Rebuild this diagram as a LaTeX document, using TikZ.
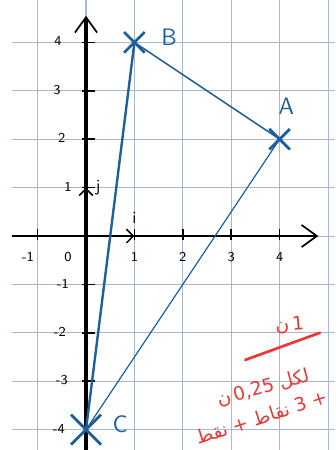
\documentclass[tikz,border=0pt]{standalone}
\usepackage{fontspec}
\newfontfamily\arabicfont[Script=Arabic]{DejaVu Sans}
\TeXXeTstate=1
\usetikzlibrary{shapes.misc, arrows.meta, positioning}
\definecolor{ptblue}{RGB}{30,95,155}
\definecolor{notered}{RGB}{235,55,55}
\definecolor{gridblue}{RGB}{165,185,210}

\begin{document}
\begin{tikzpicture}[
		% Estilos de la cuadricula, ejes y puntos
		grid_line/.style = {draw=gridblue, line width=0.6pt},
		axis/.style = {draw=black, -{Straight Barb[length=9pt, width=13pt, line width=1pt]}},
		tick/.style = {draw=black, line width=1pt},
		vec/.style = {draw=black, line width=1pt, -{Straight Barb[length=4pt, width=8pt, line width=0.9pt]}},
		num/.style = {font=\sffamily\fontsize{8}{9}\selectfont, inner sep=1pt},
		vec_lbl/.style = {font=\sffamily\fontsize{10}{11}\selectfont, inner sep=1pt},
		pt_mark/.style = {draw=ptblue, cross out, minimum size=10.5pt, inner sep=0pt, line width=1.6pt},
		pt_lbl/.style = {text=ptblue, font=\sffamily\fontsize{14}{15}\selectfont, inner sep=1pt},
		side/.style = {draw=ptblue, line width=0.9pt},
		note/.style = {text=notered, font=\arabicfont\fontsize{11}{12}\selectfont, inner sep=1pt},
		note_line/.style = {draw=notered, line width=1.6pt, line cap=round}
		]
		
		\useasboundingbox (-1.777,-4.421) rectangle (5.145,4.876);
		
		% --- CUADRICULA ---
		\foreach \gx in {-1,...,5}
			\draw[grid_line] (\gx,-4.421) -- (\gx,4.876);
		\foreach \gy in {-4,...,4}
			\draw[grid_line] (-1.53,\gy) -- (5.145,\gy);
		
		% --- EJES ---
		\coordinate (origen) at (0,0);
		\coordinate (x_ini) at (-1.53,0);
		\coordinate (x_fin) at (4.8,0);
		\coordinate (y_ini) at (0,-4.45);
		\coordinate (y_fin) at (0,4.55);
		\draw[axis, line width=1.4pt] (x_ini) -- (x_fin);
		\draw[axis, line width=2.3pt] (y_ini) -- (y_fin);
		
		% Marcas de graduacion
		\foreach \ty in {-3,-2,-1,1,2,3,4}
			\draw[tick] (-0.08,\ty) -- (0.19,\ty);
		\foreach \tx in {-1,1,2,3,4}
			\draw[tick] (\tx,0.14) -- (\tx,-0.08);
		
		% Etiquetas numericas
		\foreach \ty/\lx in {4/-0.58, 3/-0.6, 2/-0.5, 1/-0.37, -1/-0.48, -2/-0.54, -3/-0.5, -4/-0.56}
			\node[num] (ylbl\ty) at (\lx,\ty+0.02) {\ty};
		\foreach \tx/\lx in {-1/-1.2, 0/-0.37, 1/1, 2/2, 3/3, 4/4}
			\node[num] (xlbl\tx) at (\lx,-0.43) {\tx};
		
		% --- VECTORES UNITARIOS ---
		\coordinate (unit_i) at (1,0);
		\coordinate (unit_j) at (0,1);
		\coordinate (i_base) at (0.6,0);
		\coordinate (j_base) at (0,0.6);
		\draw[vec] (i_base) -- (unit_i);
		\draw[vec] (j_base) -- (unit_j);
		\node[vec_lbl, above=0.22cm of unit_i] (lbl_i) {i};
		\node[vec_lbl, right=0.16cm of unit_j] (lbl_j) {j};
		
		% --- TRIANGULO ABC ---
		\node[pt_mark] (pt_a) at (4,2) {};
		\node[pt_mark] (pt_b) at (1,4) {};
		\node[pt_mark, minimum size=16pt] (pt_c) at (0,-4) {};
		
		\draw[side, line width=1.4pt] (pt_b.center) -- (pt_c.center);
		\draw[side] (pt_b.center) -- (pt_a.center);
		\draw[side, line width=0.7pt] (pt_a.center) -- (pt_c.center);
		
		\node[pt_lbl, right=0.3cm of pt_b, yshift=3pt] (lbl_b) {B};
		\node[pt_lbl, above=0.25cm of pt_a, xshift=4pt] (lbl_a) {A};
		\node[pt_lbl, right=0.2cm of pt_c, yshift=3pt] (lbl_c) {C};
		
		% --- NOTA DE CORRECCION ---
		\node[note, rotate=5] (nota_1) at (4.21,-1.84) {\beginR\beginL1\endL\,ن\endR};
		\coordinate (raya_ini) at (3.29,-2.56);
		\coordinate (raya_fin) at (4.83,-2.0);
		\draw[note_line] (raya_ini) -- (raya_fin);
		\node[note, rotate=15] (nota_2) at (3.66,-3.14) {\beginR لكل \beginL0,25\endL\,ن\endR};
		\node[note, rotate=18] (nota_3) at (3.62,-3.74) {\beginR + \beginL3\endL\ نقاط + نقط\endR};
		
	\end{tikzpicture}
\end{document}
